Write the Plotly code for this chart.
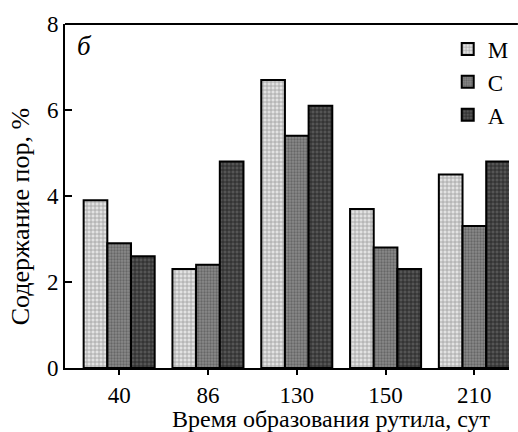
import plotly.graph_objects as go

categories = ["40", "86", "130", "150", "210"]
series_names = ["М", "С", "А"]
values_M = [3.9, 2.3, 6.7, 3.7, 4.5]
values_C = [2.9, 2.4, 5.4, 2.8, 3.3]
values_A = [2.6, 4.8, 6.1, 2.3, 4.8]
y_ticks = [0, 2, 4, 6, 8]

styles = [
    dict(bg="#e2e2e2", fg="#9c9c9c", shape="+", size=4, sol=0.35),
    dict(bg="#8a8a8a", fg="#666666", shape=".", size=3, sol=0.45),
    dict(bg="#555555", fg="#222222", shape="+", size=4, sol=0.35),
]

fig = go.Figure()
for name, vals, st in zip(series_names, [values_M, values_C, values_A], styles):
    fig.add_trace(go.Bar(
        x=categories, y=vals, name=name,
        marker=dict(
            color=st["bg"],
            line=dict(color="black", width=2),
            pattern=dict(shape=st["shape"], fgcolor=st["fg"], bgcolor=st["bg"],
                         size=st["size"], solidity=st["sol"], fillmode="replace"),
        ),
    ))

font_family = "Liberation Serif"
fig.update_layout(
    width=518, height=432,
    margin=dict(l=65, r=9, t=24, b=64, autoexpand=False),
    paper_bgcolor="white", plot_bgcolor="white",
    barmode="group", bargap=0.2, bargroupgap=0,
    font=dict(family=font_family, size=23, color="black"),
    showlegend=True,
    legend=dict(x=0.862, y=0.99, xanchor="left", yanchor="top",
                bgcolor="rgba(0,0,0,0)", font=dict(size=23),
                tracegroupgap=0, itemwidth=30, traceorder="normal"),
    xaxis=dict(
        type="category", range=[-0.61, 4.39], automargin=False,
        showline=True, linecolor="black", linewidth=2,
        ticks="outside", ticklen=5, tickwidth=2, tickcolor="black",
        tickfont=dict(size=23),
        showgrid=False, zeroline=False,
    ),
    yaxis=dict(
        range=[0, 8], tickvals=y_ticks, automargin=False,
        showline=True, linecolor="black", linewidth=2,
        ticks="inside", ticklen=7, tickwidth=2, tickcolor="black",
        tickfont=dict(size=23),
        showgrid=False, zeroline=False,
    ),
)
# top frame line
fig.add_shape(type="line", xref="paper", yref="paper", x0=0, x1=1.02, y0=1, y1=1,
              line=dict(color="black", width=2))
fig.add_annotation(text="<i>б</i>", xref="paper", yref="paper", x=0.022, y=0.985,
                   xanchor="left", yanchor="top", showarrow=False,
                   font=dict(size=27, family=font_family))
# axis titles
fig.add_annotation(text="Время образования рутила, сут", xref="paper", yref="paper",
                   x=0.60, y=-0.148, xanchor="center", yanchor="middle", showarrow=False,
                   font=dict(size=24, family=font_family))
fig.add_annotation(text="Содержание пор, %", xref="paper", yref="paper",
                   x=-0.1, y=0.44, xanchor="center", yanchor="middle",
                   textangle=-90, showarrow=False,
                   font=dict(size=26, family=font_family))

fig.write_html("out.html", config={"displayModeBar": False},
               post_script="document.body.style.margin='0';")
